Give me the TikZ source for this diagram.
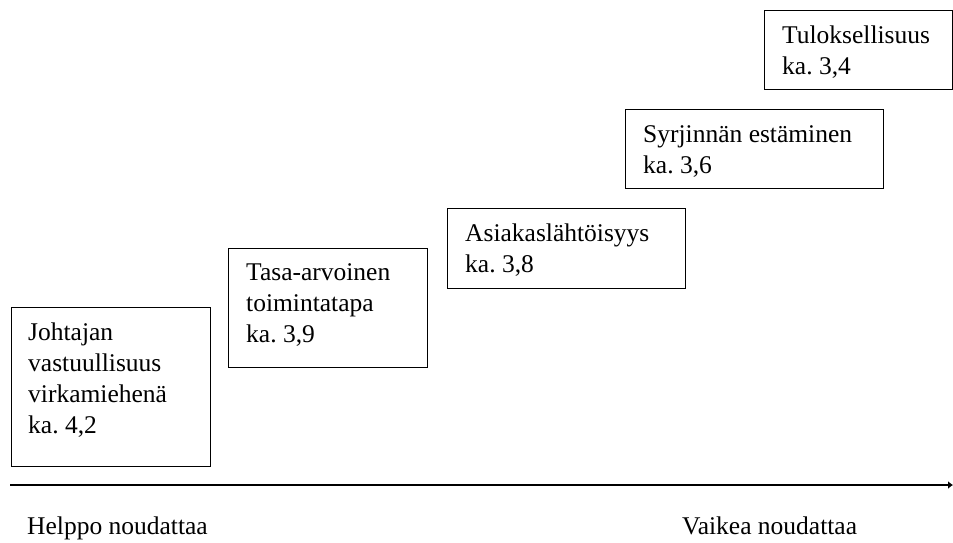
\documentclass[tikz,border=0pt]{standalone}
\usepackage{fontspec}
\setmainfont{Liberation Serif}
\frenchspacing
\usetikzlibrary{arrows.meta}
\tikzset{box/.style={draw, line width=1.2pt, anchor=north west, inner sep=0pt},
 boxtext/.style={anchor=north west, inner sep=0pt, align=left,
   font=\fontsize{25.5}{31}\selectfont},
 endlabel/.style={anchor=base west, inner sep=0pt, font=\fontsize{25.5}{31}\selectfont},
 axis/.style={line width=2.8pt, -{Latex[length=5pt,width=8pt]}},
 }

\begin{document}
\begin{tikzpicture}[x=1pt,y=-1pt]
        \useasboundingbox (0,0) rectangle (953,542);

        \node[box, minimum width=199pt, minimum height=159pt] (johtaja) at (11,307) {};
        \node[boxtext] (johtaja-t) at ([shift={(17,16)}]johtaja.north west)
            {Johtajan\\vastuullisuus\\virkamiehenä\\ka. 4,2};

        \node[box, minimum width=199pt, minimum height=119pt] (tasa) at (228,248) {};
        \node[boxtext] (tasa-t) at ([shift={(18,15)}]tasa.north west)
            {Tasa-arvoinen\\toimintatapa\\ka. 3,9};

        \node[box, minimum width=238pt, minimum height=80pt] (asiakas) at (447,208) {};
        \node[boxtext] (asiakas-t) at ([shift={(18,16)}]asiakas.north west)
            {Asiakaslähtöisyys\\ka. 3,8};

        \node[box, minimum width=258pt, minimum height=79pt] (syrjinta) at (625,109) {};
        \node[boxtext] (syrjinta-t) at ([shift={(18,16)}]syrjinta.north west)
            {Syrjinnän estäminen\\ka. 3,6};

        \node[box, minimum width=188pt, minimum height=79pt] (tulos) at (764,10) {};
        \node[boxtext] (tulos-t) at ([shift={(18,16)}]tulos.north west)
            {Tuloksellisuus\\ka. 3,4};

        \coordinate (alku) at (10,485);
        \coordinate (loppu) at (953,485);
        \draw[axis] (alku) -- (loppu);
        \node[endlabel] (helppo) at (27,534) {Helppo noudattaa};
        \node[endlabel] (vaikea) at (682,534) {Vaikea noudattaa};
\end{tikzpicture}
\end{document}
